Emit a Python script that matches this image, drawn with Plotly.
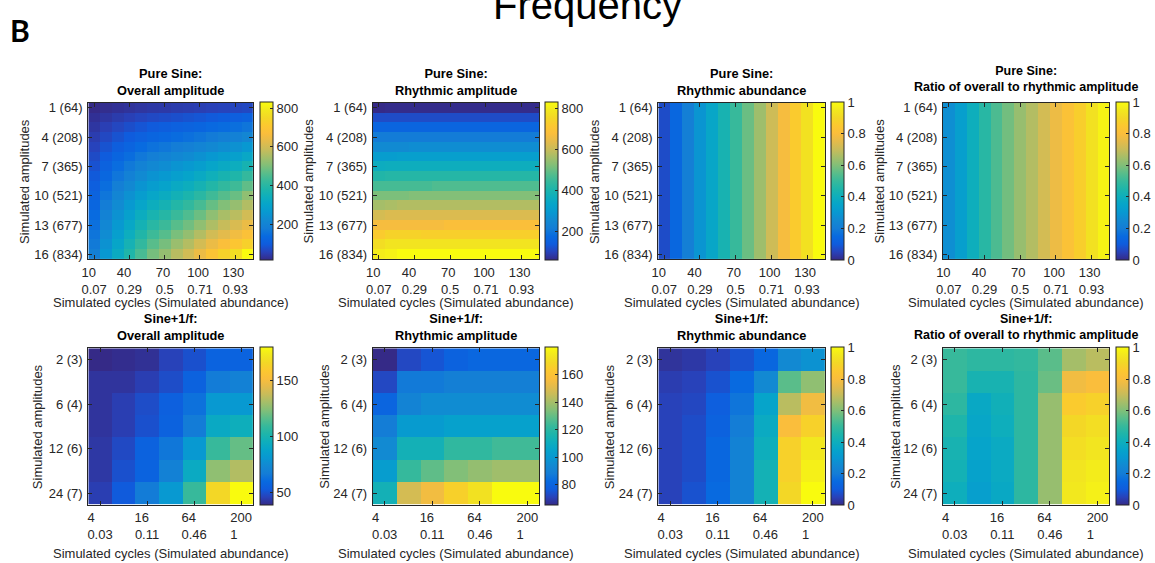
import plotly.graph_objects as go

W, H = 1155, 563
FONT = "Liberation Sans, Arial, Helvetica, sans-serif"
TXT = "#262626"

# ---------------- data ----------------
top_cycles = [10, 20, 30, 40, 50, 60, 70, 80, 90, 100, 110, 120, 130, 140]
top_rows = list(range(1, 17))
top_cycle_ticks = ["10", "40", "70", "100", "130"]
top_cycle_tick_pos = [10, 40, 70, 100, 130]
top_abund_ticks = ["0.07", "0.29", "0.5", "0.71", "0.93"]
top_amp_tick_rows = [1, 4, 7, 10, 13, 16]
top_amp_tick_labels = ["1 (64)", "4 (208)", "7 (365)", "10 (521)", "13 (677)", "16 (834)"]

bot_cols = [1, 2, 3, 4, 5, 6, 7]
bot_rows = [1, 2, 3, 4, 5, 6, 7]
bot_cycle_tick_pos = [1, 3, 5, 7]
bot_cycle_ticks = ["4", "16", "64", "200"]
bot_abund_ticks = ["0.03", "0.11", "0.46", "1"]
bot_amp_tick_rows = [1, 3, 5, 7]
bot_amp_tick_labels = ["2 (3)", "6 (4)", "12 (6)", "24 (7)"]

pure_overall = [
    [14, 20, 25, 29, 34, 38, 40, 44, 46, 49, 53, 56, 59, 64],
    [25, 35, 44, 52, 59, 66, 71, 76, 81, 86, 93, 99, 103, 112],
    [35, 50, 62, 74, 85, 94, 101, 109, 115, 123, 133, 141, 147, 160],
    [46, 64, 81, 96, 110, 123, 131, 141, 150, 160, 173, 183, 191, 208],
    [57, 81, 101, 120, 138, 153, 164, 177, 187, 200, 216, 229, 239, 260],
    [69, 97, 122, 144, 166, 185, 197, 213, 225, 241, 260, 275, 288, 313],
    [80, 113, 142, 168, 193, 215, 230, 248, 263, 281, 303, 321, 336, 365],
    [92, 129, 163, 192, 221, 246, 263, 284, 300, 321, 346, 367, 384, 417],
    [103, 145, 183, 216, 249, 277, 295, 319, 338, 361, 389, 413, 431, 469],
    [115, 162, 203, 240, 276, 307, 328, 354, 375, 401, 432, 458, 479, 521],
    [126, 178, 223, 264, 304, 338, 361, 390, 413, 441, 476, 504, 527, 560],
    [138, 194, 244, 288, 331, 369, 394, 425, 450, 481, 519, 550, 570, 600],
    [149, 210, 264, 311, 359, 399, 427, 460, 487, 521, 555, 585, 610, 640],
    [160, 226, 284, 335, 386, 430, 459, 496, 525, 561, 600, 625, 650, 680],
    [172, 242, 305, 360, 414, 461, 493, 532, 563, 602, 640, 670, 700, 730],
    [183, 259, 325, 384, 442, 492, 525, 567, 600, 642, 692, 734, 767, 831],
]

pure_rhythmic_amp = [
    [59, 62, 62, 62, 62, 62, 62, 62, 62, 62, 62, 62, 62, 62],
    [112, 112, 112, 112, 112, 112, 112, 112, 112, 112, 112, 112, 112, 112],
    [162, 162, 162, 162, 162, 162, 162, 162, 162, 162, 162, 162, 162, 162],
    [210, 210, 210, 210, 210, 210, 210, 210, 210, 210, 210, 210, 210, 210],
    [255, 255, 255, 262, 262, 262, 262, 262, 262, 262, 262, 262, 262, 262],
    [305, 305, 313, 313, 313, 313, 313, 313, 313, 313, 313, 313, 313, 313],
    [360, 365, 365, 365, 365, 365, 365, 365, 365, 365, 365, 365, 365, 365],
    [410, 416, 416, 416, 416, 416, 416, 416, 416, 416, 416, 416, 416, 416],
    [460, 460, 460, 460, 460, 470, 470, 470, 470, 470, 470, 470, 470, 470],
    [515, 515, 515, 522, 522, 522, 522, 522, 522, 522, 522, 522, 522, 522],
    [560, 566, 574, 574, 574, 574, 574, 574, 574, 574, 574, 574, 574, 574],
    [615, 624, 624, 624, 624, 624, 624, 624, 624, 624, 624, 624, 624, 624],
    [668, 668, 668, 668, 668, 668, 680, 680, 680, 680, 680, 680, 680, 680],
    [720, 740, 740, 740, 732, 732, 732, 732, 732, 732, 732, 732, 732, 732],
    [765, 782, 782, 782, 782, 782, 782, 782, 782, 782, 782, 782, 782, 782],
    [800, 810, 829, 829, 829, 829, 829, 829, 829, 829, 829, 829, 829, 829],
]

pure_abundance_row = [0.07, 0.14, 0.21, 0.29, 0.36, 0.43, 0.5, 0.57, 0.64, 0.71, 0.79, 0.86, 0.93, 1.0]
pure_ratio_row = [0.27, 0.33, 0.4, 0.47, 0.53, 0.58, 0.63, 0.67, 0.72, 0.77, 0.82, 0.87, 0.93, 0.98]
pure_abundance = [pure_abundance_row] * 16
pure_ratio = [pure_ratio_row] * 16

noise_overall = [
    [38, 39, 40, 45, 49, 56, 56],
    [41, 41, 44, 48, 55, 66, 69],
    [41, 44, 48, 54, 62, 81, 81],
    [41, 44, 49, 55, 66, 91, 95],
    [42, 47, 55, 64, 81, 109, 118],
    [42, 49, 56, 69, 92, 126, 133],
    [44, 52, 66, 81, 109, 166, 180],
]

noise_rhythmic_amp = [
    [65, 72, 75, 79, 81, 81, 81],
    [72, 87, 87, 89, 89, 89, 89],
    [80, 91, 95, 95, 95, 95, 95],
    [88, 101, 101, 104, 104, 104, 104],
    [94, 113, 113, 121, 121, 124, 124],
    [102, 122, 129, 134, 137, 139, 139],
    [113, 148, 155, 166, 172, 180, 180],
]

noise_abundance = [
    [0.02, 0.03, 0.05, 0.08, 0.14, 0.25, 0.28],
    [0.04, 0.05, 0.08, 0.15, 0.25, 0.55, 0.62],
    [0.05, 0.06, 0.11, 0.18, 0.35, 0.68, 0.78],
    [0.05, 0.07, 0.12, 0.2, 0.38, 0.8, 0.88],
    [0.05, 0.07, 0.14, 0.22, 0.4, 0.88, 0.95],
    [0.05, 0.07, 0.14, 0.22, 0.42, 0.88, 0.97],
    [0.05, 0.08, 0.15, 0.22, 0.42, 0.9, 1.0],
]

noise_ratio = [
    [0.5, 0.48, 0.48, 0.49, 0.55, 0.65, 0.68],
    [0.5, 0.43, 0.43, 0.48, 0.57, 0.78, 0.8],
    [0.48, 0.37, 0.41, 0.48, 0.63, 0.86, 0.88],
    [0.45, 0.36, 0.4, 0.48, 0.63, 0.9, 0.92],
    [0.43, 0.35, 0.38, 0.48, 0.63, 0.92, 0.94],
    [0.42, 0.34, 0.38, 0.48, 0.63, 0.94, 0.96],
    [0.4, 0.33, 0.37, 0.48, 0.63, 0.95, 0.97],
]

titles = [
    ("Pure Sine:", "Overall amplitude"),
    ("Pure Sine:", "Rhythmic amplitude"),
    ("Pure Sine:", "Rhythmic abundance"),
    ("Pure Sine:", "Ratio of overall to rhythmic amplitude"),
    ("Sine+1/f:", "Overall amplitude"),
    ("Sine+1/f:", "Rhythmic amplitude"),
    ("Sine+1/f:", "Rhythmic abundance"),
    ("Sine+1/f:", "Ratio of overall to rhythmic amplitude"),
]

cbar_ticks = [
    [200, 400, 600, 800],
    [200, 400, 600, 800],
    [0, 0.2, 0.4, 0.6, 0.8, 1],
    [0, 0.2, 0.4, 0.6, 0.8, 1],
    [50, 100, 150],
    [80, 100, 120, 140, 160],
    [0, 0.2, 0.4, 0.6, 0.8, 1],
    [0, 0.2, 0.4, 0.6, 0.8, 1],
]
fixed_range = [None, None, (0, 1), (0, 1), None, None, (0, 1), (0, 1)]

matrices = [pure_overall, pure_rhythmic_amp, pure_abundance, pure_ratio,
            noise_overall, noise_rhythmic_amp, noise_abundance, noise_ratio]

# ---------------- style ----------------
parula = [
    [0.00, "rgb(53,42,135)"],
    [0.05, "rgb(40,66,186)"],
    [0.10, "rgb(15,92,221)"],
    [0.15, "rgb(8,106,224)"],
    [0.20, "rgb(20,125,214)"],
    [0.25, "rgb(18,137,210)"],
    [0.30, "rgb(8,152,209)"],
    [0.35, "rgb(6,164,202)"],
    [0.40, "rgb(14,174,188)"],
    [0.45, "rgb(30,181,170)"],
    [0.50, "rgb(55,185,155)"],
    [0.55, "rgb(90,189,138)"],
    [0.60, "rgb(130,191,120)"],
    [0.65, "rgb(165,190,105)"],
    [0.70, "rgb(200,188,90)"],
    [0.75, "rgb(228,187,75)"],
    [0.80, "rgb(250,190,60)"],
    [0.85, "rgb(252,200,48)"],
    [0.90, "rgb(243,215,38)"],
    [0.95, "rgb(242,232,30)"],
    [1.00, "rgb(249,251,14)"],
]

FS = 13
NB = "\u00a0"


def text_w(s):
    # rough Arial advance widths in em, used only to left-align two-line tick labels
    return sum(0.278 if ch in ". " else 0.556 for ch in s)


def two_line(a, b):
    d = text_w(b) - text_w(a)
    n = int(round(abs(d) / 0.278))
    if d > 0:
        a = a + NB * n
    elif d < 0:
        b = b + NB * n
    return a + "<br>" + b


plot_x = [(82, 248), (369, 537), (657, 825), (944, 1112)]
plot_y = [(101, 259), (349, 507)]
cbar_x = [255, 543, 831, 1119]
ytitle_x = [[17, 304, 592, 880], [31, 320, 608, 896]]
xtitle_y = [303, 556]
title_gap = [[3, 3, 3, 7], [3, 3, 3, 4]]
title_fs = [12.8, 12.8, 12.8, 12.5]

fig = go.Figure()
layout = dict(
    width=W, height=H,
    margin=dict(l=0, r=0, t=0, b=0),
    paper_bgcolor="white", plot_bgcolor="white",
    font=dict(family=FONT, size=FS, color=TXT),
    showlegend=False,
)
annotations = []

for i in range(8):
    r, c = divmod(i, 4)
    x0, x1 = plot_x[c]
    y0, y1 = plot_y[r]
    n = "" if i == 0 else str(i + 1)
    top = (r == 0)
    xs = top_cycles if top else bot_cols
    ys = top_rows if top else bot_rows
    hm = dict(
        z=matrices[i], x=xs, y=ys,
        xaxis="x" + n, yaxis="y" + n,
        colorscale=parula,
        colorbar=dict(
            x=cbar_x[c] / W, xanchor="left", xpad=0,
            y=1 - (y0 + y1) / 2 / H, yanchor="middle", ypad=0,
            len=y1 - y0, lenmode="pixels",
            thickness=13, thicknessmode="pixels",
            outlinewidth=1, outlinecolor=TXT,
            ticks="inside", ticklen=3, tickcolor=TXT,
            tickvals=cbar_ticks[i],
            ticktext=[("%g" % v) for v in cbar_ticks[i]],
            tickfont=dict(family=FONT, size=FS, color=TXT),
        ),
    )
    if fixed_range[i]:
        hm["zmin"], hm["zmax"] = fixed_range[i]
    fig.add_trace(go.Heatmap(**hm))

    if top:
        xtv = top_cycle_tick_pos
        xtt = [two_line(a, b) for a, b in zip(top_cycle_ticks, top_abund_ticks)]
        xr = [top_cycles[0] - 5, top_cycles[-1] + 5]
        ytv, ytt = top_amp_tick_rows, top_amp_tick_labels
        yr = [top_rows[-1] + 0.5, top_rows[0] - 0.5]
    else:
        xtv = bot_cycle_tick_pos
        xtt = [two_line(a, b) for a, b in zip(bot_cycle_ticks, bot_abund_ticks)]
        xr = [bot_cols[0] - 0.5, bot_cols[-1] + 0.5]
        ytv, ytt = bot_amp_tick_rows, bot_amp_tick_labels
        yr = [bot_rows[-1] + 0.5, bot_rows[0] - 0.5]

    common = dict(showline=True, linecolor=TXT, linewidth=1, mirror="ticks",
                  ticks="inside", ticklen=4, tickcolor=TXT, showgrid=False,
                  zeroline=False, fixedrange=True,
                  tickfont=dict(family=FONT, size=FS, color=TXT))
    layout["xaxis" + n] = dict(domain=[x0 / W, x1 / W], anchor="y" + n,
                               range=xr, tickmode="array", tickvals=xtv,
                               ticktext=xtt, ticklabelstandoff=1, **common)
    layout["yaxis" + n] = dict(domain=[1 - y1 / H, 1 - y0 / H], anchor="x" + n,
                               range=yr, tickmode="array", tickvals=ytv,
                               ticktext=ytt, ticklabelstandoff=2, **common)

    # panel title
    annotations.append(dict(
        text="<b>%s</b><br><b>%s</b>" % titles[i],
        x=(x0 + x1) / 2 / W, y=1 - (y0 - title_gap[r][c]) / H, xref="paper", yref="paper",
        xanchor="center", yanchor="bottom", showarrow=False,
        font=dict(family=FONT, size=title_fs[c], color="black")))
    # y title
    annotations.append(dict(
        text="Simulated amplitudes", textangle=-90,
        x=ytitle_x[r][c] / W, y=1 - (y0 + y1) / 2 / H, xref="paper", yref="paper",
        xanchor="center", yanchor="middle", showarrow=False,
        font=dict(family=FONT, size=FS, color=TXT)))
    # x title
    annotations.append(dict(
        text="Simulated cycles (Simulated abundance)",
        x=(x0 + x1) / 2 / W, y=1 - xtitle_y[r] / H, xref="paper", yref="paper",
        xanchor="center", yanchor="middle", showarrow=False,
        font=dict(family=FONT, size=FS, color=TXT)))

annotations.append(dict(
    text="<b>B</b>", x=1 / W, y=1 - 27 / H, xref="paper", yref="paper",
    xanchor="left", yanchor="middle", showarrow=False,
    font=dict(family="Lato, Liberation Sans Narrow, sans-serif", size=30, color="black")))
annotations.append(dict(
    text="Frequency", x=586 / W, y=1 - 2 / H, xref="paper", yref="paper",
    xanchor="center", yanchor="middle", showarrow=False,
    font=dict(family=FONT, size=40, color="black")))

layout["annotations"] = annotations
fig.update_layout(**layout)
fig.write_html("out.html")
